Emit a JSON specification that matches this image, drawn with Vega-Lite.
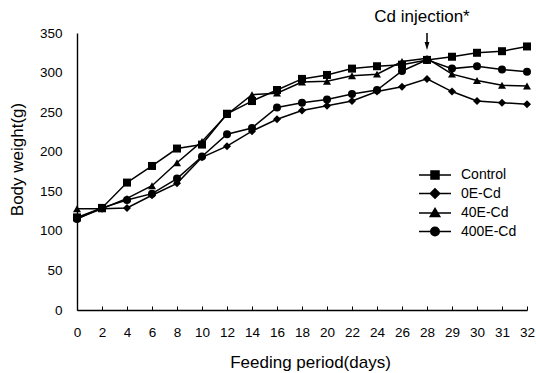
{
  "$schema": "https://vega.github.io/schema/vega-lite/v6.json",
  "autosize": {"type": "none"},
  "width": 450,
  "height": 277,
  "padding": {"left": 77, "top": 33, "right": 9, "bottom": 63},
  "background": "white",
  "config": {
    "view": {"stroke": null},
    "font": "Liberation Sans",
    "axis": {"grid": false, "domainColor": "black", "domainWidth": 1.4, "tickColor": "black", "labelColor": "black", "titleColor": "black", "labelFont": "Liberation Sans", "titleFont": "Liberation Sans", "titleFontWeight": "normal"}
  },
  "resolve": {"scale": {"shape": "independent"}},
  "datasets": {
    "weights": [
      {"day": "0", "group": "Control", "weight": 117},
      {"day": "2", "group": "Control", "weight": 129},
      {"day": "4", "group": "Control", "weight": 161},
      {"day": "6", "group": "Control", "weight": 182},
      {"day": "8", "group": "Control", "weight": 204},
      {"day": "10", "group": "Control", "weight": 209},
      {"day": "12", "group": "Control", "weight": 248},
      {"day": "14", "group": "Control", "weight": 264},
      {"day": "16", "group": "Control", "weight": 278},
      {"day": "18", "group": "Control", "weight": 292},
      {"day": "20", "group": "Control", "weight": 297},
      {"day": "22", "group": "Control", "weight": 305},
      {"day": "24", "group": "Control", "weight": 308},
      {"day": "26", "group": "Control", "weight": 310},
      {"day": "28", "group": "Control", "weight": 316},
      {"day": "29", "group": "Control", "weight": 320},
      {"day": "30", "group": "Control", "weight": 325},
      {"day": "31", "group": "Control", "weight": 327},
      {"day": "32", "group": "Control", "weight": 333},
      {"day": "0", "group": "0E-Cd", "weight": 116},
      {"day": "2", "group": "0E-Cd", "weight": 128},
      {"day": "4", "group": "0E-Cd", "weight": 129},
      {"day": "6", "group": "0E-Cd", "weight": 145},
      {"day": "8", "group": "0E-Cd", "weight": 160},
      {"day": "10", "group": "0E-Cd", "weight": 193},
      {"day": "12", "group": "0E-Cd", "weight": 207},
      {"day": "14", "group": "0E-Cd", "weight": 226},
      {"day": "16", "group": "0E-Cd", "weight": 241},
      {"day": "18", "group": "0E-Cd", "weight": 252},
      {"day": "20", "group": "0E-Cd", "weight": 258},
      {"day": "22", "group": "0E-Cd", "weight": 264},
      {"day": "24", "group": "0E-Cd", "weight": 276},
      {"day": "26", "group": "0E-Cd", "weight": 282},
      {"day": "28", "group": "0E-Cd", "weight": 292},
      {"day": "29", "group": "0E-Cd", "weight": 276},
      {"day": "30", "group": "0E-Cd", "weight": 264},
      {"day": "31", "group": "0E-Cd", "weight": 262},
      {"day": "32", "group": "0E-Cd", "weight": 260},
      {"day": "0", "group": "40E-Cd", "weight": 128},
      {"day": "2", "group": "40E-Cd", "weight": 128},
      {"day": "4", "group": "40E-Cd", "weight": 141},
      {"day": "6", "group": "40E-Cd", "weight": 157},
      {"day": "8", "group": "40E-Cd", "weight": 186},
      {"day": "10", "group": "40E-Cd", "weight": 213},
      {"day": "12", "group": "40E-Cd", "weight": 247},
      {"day": "14", "group": "40E-Cd", "weight": 272},
      {"day": "16", "group": "40E-Cd", "weight": 274},
      {"day": "18", "group": "40E-Cd", "weight": 288},
      {"day": "20", "group": "40E-Cd", "weight": 289},
      {"day": "22", "group": "40E-Cd", "weight": 296},
      {"day": "24", "group": "40E-Cd", "weight": 298},
      {"day": "26", "group": "40E-Cd", "weight": 314},
      {"day": "28", "group": "40E-Cd", "weight": 318},
      {"day": "29", "group": "40E-Cd", "weight": 298},
      {"day": "30", "group": "40E-Cd", "weight": 290},
      {"day": "31", "group": "40E-Cd", "weight": 284},
      {"day": "32", "group": "40E-Cd", "weight": 283},
      {"day": "0", "group": "400E-Cd", "weight": 115},
      {"day": "2", "group": "400E-Cd", "weight": 129},
      {"day": "4", "group": "400E-Cd", "weight": 139},
      {"day": "6", "group": "400E-Cd", "weight": 147},
      {"day": "8", "group": "400E-Cd", "weight": 166},
      {"day": "10", "group": "400E-Cd", "weight": 194},
      {"day": "12", "group": "400E-Cd", "weight": 222},
      {"day": "14", "group": "400E-Cd", "weight": 230},
      {"day": "16", "group": "400E-Cd", "weight": 256},
      {"day": "18", "group": "400E-Cd", "weight": 262},
      {"day": "20", "group": "400E-Cd", "weight": 266},
      {"day": "22", "group": "400E-Cd", "weight": 273},
      {"day": "24", "group": "400E-Cd", "weight": 278},
      {"day": "26", "group": "400E-Cd", "weight": 302},
      {"day": "28", "group": "400E-Cd", "weight": 316},
      {"day": "29", "group": "400E-Cd", "weight": 305},
      {"day": "30", "group": "400E-Cd", "weight": 308},
      {"day": "31", "group": "400E-Cd", "weight": 304},
      {"day": "32", "group": "400E-Cd", "weight": 301}
    ],
    "notes": [
      {"day": "28", "note": "Cd injection*"}
    ]
  },
  "layer": [
    {
      "data": {"name": "weights"},
      "mark": {"type": "line", "color": "black", "strokeWidth": 1.5},
      "encoding": {
        "x": {
          "field": "day", "type": "ordinal",
          "sort": ["0","2","4","6","8","10","12","14","16","18","20","22","24","26","28","29","30","31","32"],
          "scale": {"type": "point", "padding": 0},
          "axis": {
            "title": "Feeding period(days)", "titleFontSize": 17, "titleX": 233, "titleY": 52, "titleBaseline": "middle",
            "labelAngle": 0, "labelFontSize": 13.5, "labelPadding": 19.5, "labelBaseline": "top", "labelOverlap": false,
            "ticks": true, "tickSize": -4, "tickWidth": 1
          }
        },
        "y": {
          "field": "weight", "type": "quantitative",
          "scale": {"domain": [0, 350], "nice": false, "zero": true},
          "axis": {
            "title": "Body weight(g)", "titleFontSize": 17, "titleX": -60, "titleY": 126, "titleBaseline": "middle", "titleAngle": 270,
            "values": [0, 50, 100, 150, 200, 250, 300, 350], "tickCount": 8,
            "labelFontSize": 13.5, "labelPadding": 15, "ticks": false, "labelOverlap": false, "labelSeparation": -30, "labelBound": false, "labelFlush": false
          }
        },
        "detail": {"field": "group"}
      }
    },
    {
      "data": {"name": "weights"},
      "mark": {"type": "point", "filled": true, "color": "black", "opacity": 1, "size": 64},
      "encoding": {
        "x": {"field": "day", "type": "ordinal", "sort": ["0","2","4","6","8","10","12","14","16","18","20","22","24","26","28","29","30","31","32"]},
        "y": {"field": "weight", "type": "quantitative"},
        "shape": {
          "field": "group", "type": "nominal",
          "scale": {"domain": ["Control", "0E-Cd", "40E-Cd", "400E-Cd"], "range": ["square", "diamond", "triangle-up", "circle"]},
          "legend": null
        }
      }
    },
    {
      "data": {"name": "weights"},
      "mark": {"type": "point", "filled": true, "color": "black", "stroke": "black", "strokeWidth": 1.5, "opacity": 0, "size": 100},
      "encoding": {
        "x": {"field": "day", "type": "ordinal", "sort": ["0","2","4","6","8","10","12","14","16","18","20","22","24","26","28","29","30","31","32"]},
        "y": {"field": "weight", "type": "quantitative"},
        "shape": {
          "field": "group", "type": "nominal",
          "scale": {"domain": ["Control", "0E-Cd", "40E-Cd", "400E-Cd"], "range": ["M-3.2,0H3.2M-0.8,-0.8H0.8V0.8H-0.8Z", "M-3.2,0H3.2M0,-0.95L0.95,0L0,0.95L-0.95,0Z", "M-3.2,0H3.2M0,-0.9L0.95,0.7H-0.95Z", "M-3.2,0H3.2M-0.85,0A0.85,0.85,0,1,1,0.85,0A0.85,0.85,0,1,1,-0.85,0Z"]},
          "legend": {
            "title": null, "orient": "none", "legendX": 351, "legendY": 135, "padding": 0,
            "labelFont": "Liberation Sans", "labelFontSize": 14, "labelColor": "black", "labelOffset": 19,
            "symbolSize": 100, "symbolOpacity": 1, "symbolStrokeWidth": 1.5,
            "rowPadding": 3.5
          }
        }
      }
    },
    {
      "data": {"name": "notes"},
      "mark": {"type": "rule", "color": "black", "strokeWidth": 1.5},
      "encoding": {
        "x": {"field": "day", "type": "ordinal", "sort": ["0","2","4","6","8","10","12","14","16","18","20","22","24","26","28","29","30","31","32"]},
        "y": {"datum": 350},
        "y2": {"datum": 337}
      }
    },
    {
      "data": {"name": "notes"},
      "mark": {"type": "point", "filled": true, "color": "black", "opacity": 1, "size": 64, "shape": "M-0.6,-1L0.6,-1L0,1Z"},
      "encoding": {
        "x": {"field": "day", "type": "ordinal", "sort": ["0","2","4","6","8","10","12","14","16","18","20","22","24","26","28","29","30","31","32"]},
        "y": {"datum": 333.5}
      }
    },
    {
      "data": {"name": "notes"},
      "mark": {"type": "text", "color": "black", "font": "Liberation Sans", "fontSize": 17, "baseline": "middle", "align": "center", "dx": -5},
      "encoding": {
        "x": {"field": "day", "type": "ordinal", "sort": ["0","2","4","6","8","10","12","14","16","18","20","22","24","26","28","29","30","31","32"]},
        "y": {"datum": 370},
        "text": {"field": "note"}
      }
    }
  ]
}
